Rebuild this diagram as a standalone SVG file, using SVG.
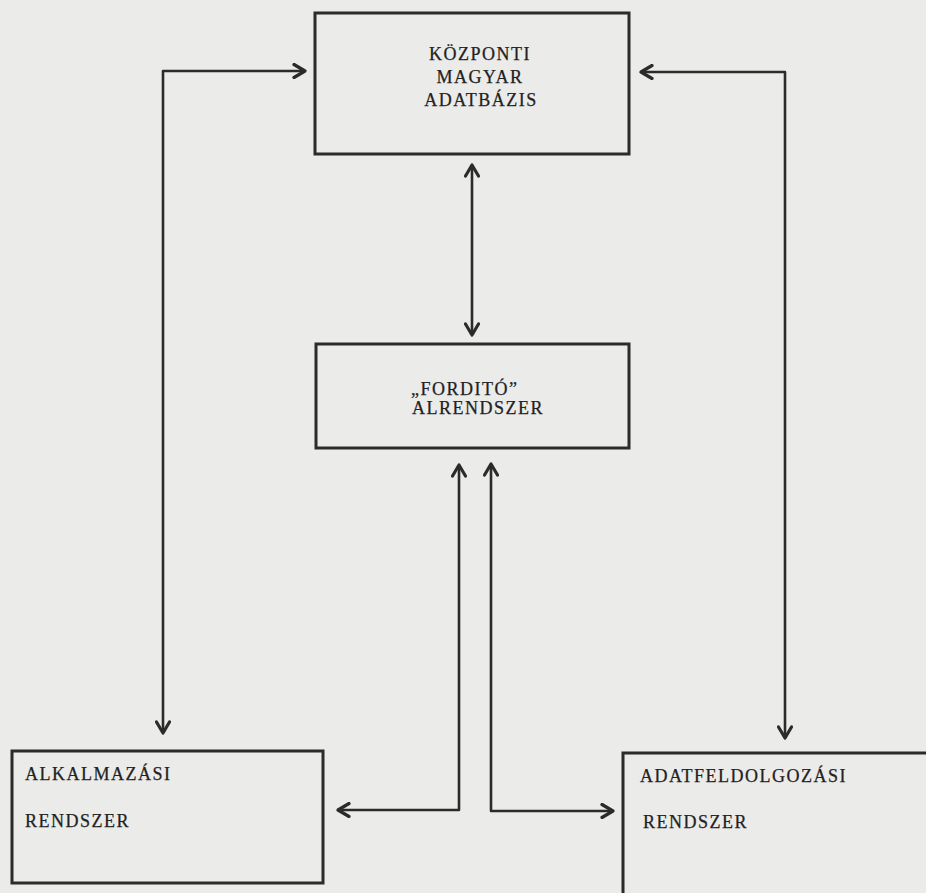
<svg xmlns="http://www.w3.org/2000/svg" width="926" height="893" viewBox="0 0 926 893">
<style>
.bg{fill:#ebebe9}
.box{fill:none;stroke:#2b2b2b;stroke-width:3}
.con{fill:none;stroke:#2b2b2b;stroke-width:2.6;stroke-linejoin:round}
.t{font-family:"Liberation Serif","Times New Roman",serif;font-size:18px;letter-spacing:1.5px;fill:#222;stroke:#222;stroke-width:0.25}
.c{text-anchor:middle}
</style>
<defs>
<marker id="ah" viewBox="0 0 16 16" refX="14" refY="8" markerWidth="16" markerHeight="16" markerUnits="userSpaceOnUse" orient="auto-start-reverse">
<path d="M3,1.5 L14,8 L3,14.5" fill="none" stroke="#2b2b2b" stroke-width="3.2" stroke-linecap="round" stroke-linejoin="round"/>
</marker>
</defs>
<rect class="bg" x="0" y="0" width="926" height="893"/>
<g id="connectors">
<path class="con" d="M163,733 V71 H305" marker-start="url(#ah)" marker-end="url(#ah)"/>
<path class="con" d="M641,72 H785 V738" marker-start="url(#ah)" marker-end="url(#ah)"/>
<path class="con" d="M472,165 V335" marker-start="url(#ah)" marker-end="url(#ah)"/>
<path class="con" d="M338,810 H459 V465" marker-start="url(#ah)" marker-end="url(#ah)"/>
<path class="con" d="M613,811 H491 V464" marker-start="url(#ah)" marker-end="url(#ah)"/>
</g>
<g id="kozponti">
<rect class="box" x="315" y="13" width="314" height="141"/>
<text class="t c" x="480" y="60">KÖZPONTI</text>
<text class="t c" x="480" y="83">MAGYAR</text>
<text class="t c" x="481" y="106">ADATBÁZIS</text>
</g>
<g id="fordito">
<rect class="box" x="316" y="344" width="313" height="104"/>
<text class="t" x="411" y="395">„FORDITÓ”</text>
<text class="t" x="412" y="414">ALRENDSZER</text>
</g>
<g id="alkalmazasi">
<rect class="box" x="12" y="751" width="311" height="132"/>
<text class="t" x="25" y="780">ALKALMAZÁSI</text>
<text class="t" x="25" y="827">RENDSZER</text>
</g>
<g id="adatfeldolgozasi">
<rect class="box" x="623" y="753" width="330" height="160"/>
<text class="t" x="640" y="782">ADATFELDOLGOZÁSI</text>
<text class="t" x="643" y="828">RENDSZER</text>
</g>
</svg>
